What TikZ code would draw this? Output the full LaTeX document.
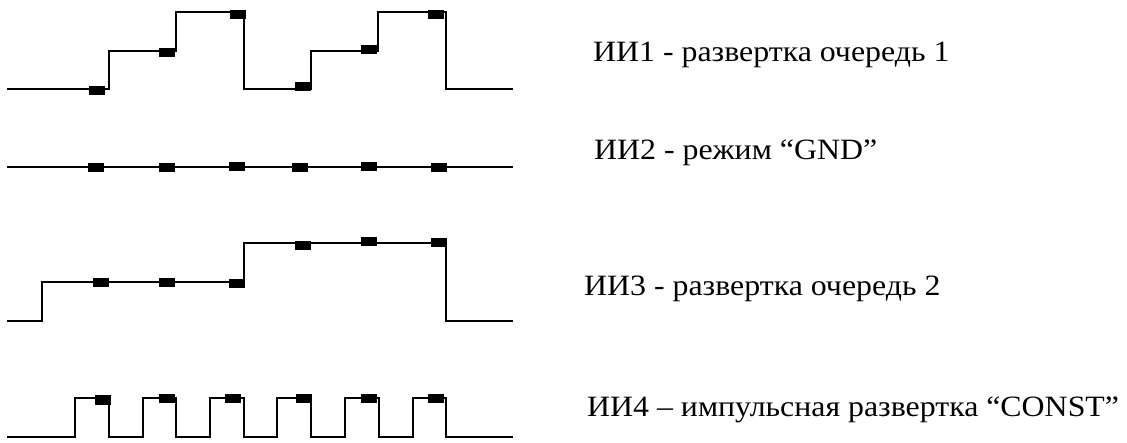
\documentclass[tikz,border=0pt]{standalone}
\usepackage{fontspec}
\setmainfont[FakeStretch=1.08]{Liberation Serif}
\usetikzlibrary{positioning}

\tikzset{
  wave/.style={line width=2.2pt, line join=miter},
  pip/.style={fill=black, draw=none},
  caption/.style={anchor=base west, inner sep=0pt, font=\fontsize{29.5}{34}\selectfont}
}

\begin{document}
\begin{tikzpicture}[x=1pt, y=-1pt]

\useasboundingbox (0,0) rectangle (1127,443);

% --- Trace 1: staircase sweep, two runs ---
\draw[wave] (7,89.3) -- (109,89.3) -- (109,50.7) -- (176,50.7) -- (176,12)
  -- (244,12) -- (244,89.3) -- (311,89.3) -- (311,50.7) -- (378,50.7)
  -- (378,12) -- (446,12) -- (446,89.3) -- (513,89.3);
\foreach \x/\y in {97/91, 166.5/52.5, 237.5/14.5, 302.5/86.5, 369/49.5, 436/14.5}
{
    \fill[pip] (\x-8,\y-4.5) rectangle ++(16,9);
}
\node[caption] (lbl1) at (593,62) {ИИ1 - развертка очередь 1};

% --- Trace 2: ground level ---
\draw[wave] (7,166.7) -- (513,166.7);
\foreach \x/\y in {96/167.5, 166.5/167.5, 236.5/167, 300/167.5, 369/167, 439/167.5}
{
    \fill[pip] (\x-8,\y-4.5) rectangle ++(16,9);
}
\node[caption] (lbl2) at (594,160) {ИИ2 - режим “GND”};

% --- Trace 3: two-level sweep ---
\draw[wave] (7,320.7) -- (41.7,320.7) -- (41.7,281.7) -- (243.7,281.7)
  -- (243.7,242.7) -- (446,242.7) -- (446,320.7) -- (513,320.7);
\foreach \x/\y in {100.5/283, 166.5/283, 236.5/284, 302.5/246, 369/241.5, 438.5/242.5}
{
    \fill[pip] (\x-8,\y-4.5) rectangle ++(16,9);
}
\node[caption] (lbl3) at (584,296) {ИИ3 - развертка очередь 2};

% --- Trace 4: pulse train ---
\draw[wave] (7,436.7)
  \foreach \up/\dn in {74.7/109, 143.3/176, 210/243.7, 277.3/310.7, 345/379, 412.7/446}
  { -- (\up,436.7) -- (\up,397.7) -- (\dn,397.7) -- (\dn,436.7) }
  -- (513,436.7);
\foreach \x/\y in {103/400, 166.5/398.5, 233/398.5, 303.5/398.5, 369/398.5, 435.5/398.5}
{
    \fill[pip] (\x-8,\y-4.5) rectangle ++(16,9);
}
\node[caption] (lbl4) at (587,416) {ИИ4 – импульсная развертка “CONST”};

\end{tikzpicture}
\end{document}
